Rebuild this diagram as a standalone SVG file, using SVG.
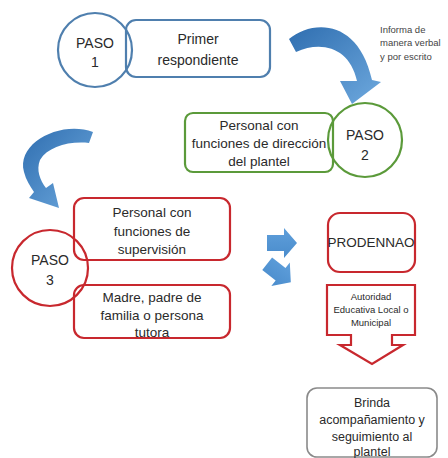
<svg xmlns="http://www.w3.org/2000/svg" width="448" height="458" viewBox="0 0 448 458">
<defs>
<linearGradient id="gBlue" x1="0" y1="0" x2="1" y2="1">
<stop offset="0" stop-color="#2f6eb0"/>
<stop offset="1" stop-color="#6ea9de"/>
</linearGradient>
<linearGradient id="gBlock" x1="0" y1="0" x2="0" y2="1">
<stop offset="0" stop-color="#5f9fdb"/>
<stop offset="1" stop-color="#4a8ccc"/>
</linearGradient>
<style>
text{font-family:"Liberation Sans",Arial,sans-serif;fill:#2a2a2a;text-anchor:middle}
.blue{fill:none;stroke:#4f7fae;stroke-width:2.2}
.green{fill:none;stroke:#5b9a3a;stroke-width:2.2}
.red{fill:none;stroke:#c8282e;stroke-width:2.2}
.gray{fill:#fff;stroke:#8a8a8a;stroke-width:1.6}
.t14{font-size:14px}
.t13{font-size:13.5px}
.small{font-size:9.5px;text-anchor:start;fill:#444}
</style>
</defs>
<rect width="448" height="458" fill="#fff"/>

<g id="connectors">
<path d="M 289 39 C 312 20 358 18 372 80 L 381 82 L 352 104 L 340 81 L 357 81 C 350 48 322 40 296 52 Z" fill="url(#gBlue)"/>
<path d="M 93 132 C 62 120 16 142 24 172 C 26 180 30 186 34 192 L 29 198 L 59 208 L 53 183 L 46 188 C 40 180 36 170 40 160 C 48 147 68 141 89 143 Z" fill="url(#gBlue)"/>
<path d="M 267 235 H 284 V 228 L 297 243 L 284 258 V 251 H 267 Z" fill="url(#gBlock)"/>
<g transform="translate(279,273) rotate(38)">
<path d="M -15 -8 H 2 V -15 L 15 0 L 2 15 V 8 H -15 Z" fill="url(#gBlock)"/>
</g>
</g>

<g id="paso1">
<circle cx="95" cy="50" r="37" class="blue"/>
<text x="95" y="48" class="t14">PASO</text>
<text x="95" y="67" class="t14">1</text>
</g>
<g id="primer">
<rect x="126" y="20" width="144" height="57" rx="10" class="blue"/>
<text x="198" y="44" class="t14">Primer</text>
<text x="198" y="65" class="t14">respondiente</text>
</g>
<g id="informa">
<text x="380" y="33" class="small">Informa de</text>
<text x="380" y="46" class="small">manera verbal</text>
<text x="380" y="60" class="small">y por escrito</text>
</g>

<g id="direccion">
<rect x="185" y="113" width="148" height="59" rx="8" class="green"/>
<text x="259" y="130" class="t13">Personal con</text>
<text x="259" y="148" class="t13">funciones de dirección</text>
<text x="259" y="166" class="t13">del plantel</text>
</g>
<g id="paso2">
<circle cx="365" cy="140" r="37" class="green"/>
<text x="365" y="140" class="t14">PASO</text>
<text x="365" y="160" class="t14">2</text>
</g>

<g id="paso3">
<circle cx="50" cy="268" r="38" class="red"/>
<text x="50" y="265" class="t14">PASO</text>
<text x="50" y="285" class="t14">3</text>
</g>
<g id="supervision">
<rect x="74" y="198" width="156" height="62" rx="10" class="red"/>
<text x="152" y="217" class="t13">Personal con</text>
<text x="152" y="236" class="t13">funciones de</text>
<text x="152" y="254" class="t13">supervisión</text>
</g>
<g id="madre">
<rect x="74" y="285" width="156" height="53" rx="10" class="red"/>
<text x="152" y="302" class="t13">Madre, padre de</text>
<text x="152" y="320" class="t13">familia o persona</text>
<text x="152" y="337" class="t13">tutora</text>
</g>

<g id="prodennao">
<rect x="328" y="213" width="87" height="59" rx="12" class="red"/>
<text x="371" y="247" class="t13">PRODENNAO</text>
</g>
<g id="autoridad">
<path d="M 327 285 H 415 V 335 H 392 V 345 H 403 L 372 364 L 340 345 H 351 V 335 H 327 Z" class="red" stroke-linejoin="miter"/>
<text x="371" y="300" style="font-size:9.5px">Autoridad</text>
<text x="371" y="313" style="font-size:9.5px">Educativa Local o</text>
<text x="371" y="326" style="font-size:9.5px">Municipal</text>
</g>
<g id="brinda">
<rect x="307" y="388" width="130" height="69" rx="10" class="gray"/>
<text x="372" y="407" style="font-size:12.5px">Brinda</text>
<text x="372" y="424" style="font-size:12.5px">acompañamiento y</text>
<text x="372" y="441" style="font-size:12.5px">seguimiento al</text>
<text x="372" y="456" style="font-size:12.5px">plantel</text>
</g>
</svg>
